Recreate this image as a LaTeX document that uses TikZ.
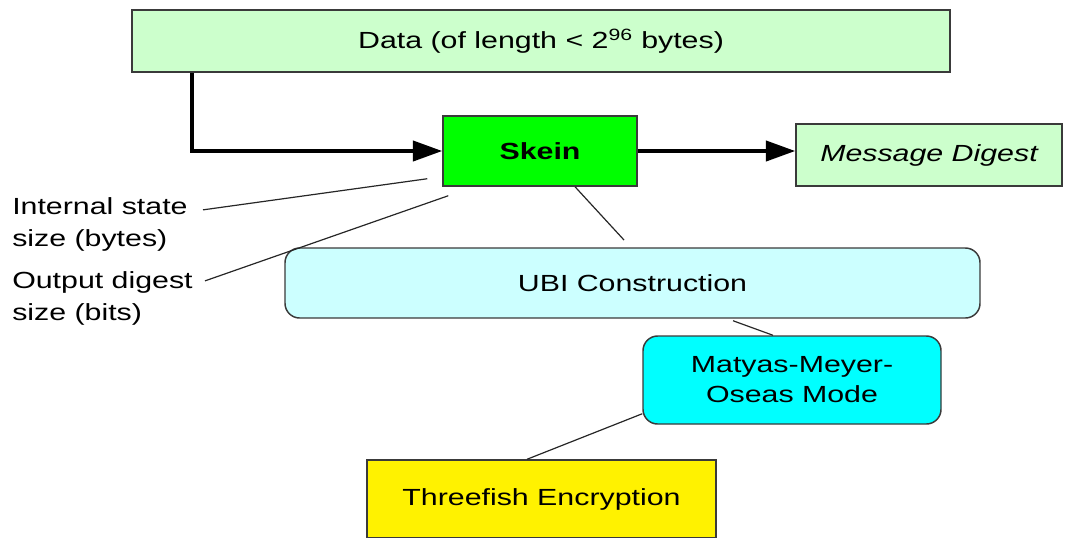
\documentclass[tikz,border=0pt]{standalone}
\usepackage{fontspec}
\setmainfont[FakeStretch=1.3]{Liberation Sans}
\usetikzlibrary{arrows.meta,calc}
\definecolor{paleGreen}{HTML}{CCFFCC}
\definecolor{brightGreen}{HTML}{00FF00}
\definecolor{paleCyan}{HTML}{CCFFFF}
\definecolor{brightCyan}{HTML}{00FFFF}
\definecolor{edgeGray}{HTML}{3A3A3A}
\tikzset{
  box/.style={draw=edgeGray, line width=1.1pt, inner sep=0pt,
    font=\fontsize{17.5}{22.5}\selectfont, align=center},
  roundbox/.style={box, rounded corners=11pt},
  flow/.style={line width=3pt, -{Triangle[length=22pt,width=15pt]}},
  link/.style={draw=black!85, line width=0.9pt},
  label/.style={font=\fontsize{17.5}{24}\selectfont, align=left, anchor=west, inner sep=0pt}
}
\begin{document}
\begin{tikzpicture}[x=0.75pt,y=-0.75pt]
  \useasboundingbox (0,0) rectangle (1066,537);
  \clip (0,0) rectangle (1066,537);

  % boxes
  \node[box, fill=paleGreen, minimum width=613.5pt, minimum height=46.5pt] (data) at (541,41)
    {Data (of length < 2\textsuperscript{96} bytes)};
  \node[box, fill=brightGreen, minimum width=145.5pt, minimum height=52.5pt] (skein) at (540,151)
    {\bfseries Skein};
  \node[box, fill=paleGreen, minimum width=199.5pt, minimum height=46.5pt] (digest) at (929,155)
    {\itshape Message Digest};
  \node[roundbox, fill=paleCyan, minimum width=521.25pt, minimum height=52.5pt] (ubi) at (632.5,283)
    {UBI Construction};
  \node[roundbox, fill=brightCyan, minimum width=223.5pt, minimum height=66pt] (mmo) at (792,380)
    {Matyas-Meyer-\\Oseas Mode};
  \node[box, fill=yellow, minimum width=261.75pt, minimum height=58.5pt] (tf) at (541.5,499)
    {Threefish Encryption};

  % side labels
  \node[label] (state) at (12,224) {Internal state\\size (bytes)};
  \node[label] (outsz) at (12,298) {Output digest\\size (bits)};

  % data flow
  \draw[flow] ($(data.south west)+(61,0)$) |- (skein.west);
  \draw[flow] (skein.east) -- (skein.east -| digest.west);

  % parameter pointers
  \coordinate (stateEnd) at ($(skein.south west)+(-15,-8)$);
  \coordinate (outEnd) at ($(skein.south west)+(6,9)$);
  \draw[link] ($(state.north west)+(191,13)$) -- (stateEnd);
  \draw[link] ($(outsz.north west)+(193,10)$) -- (outEnd);

  % component hierarchy
  \coordinate (ubiTop) at (624,240);
  \draw[link] ($(skein.south)+(35,0)$) -- (ubiTop);
  \draw[link] ($(ubi.south)+(100.5,2)$) -- ($(mmo.north)+(-19,0)$);
  \draw[link] ($(mmo.south west)+(0,-11)$) -- ($(tf.north)+(-14.5,0)$);
\end{tikzpicture}
\end{document}
